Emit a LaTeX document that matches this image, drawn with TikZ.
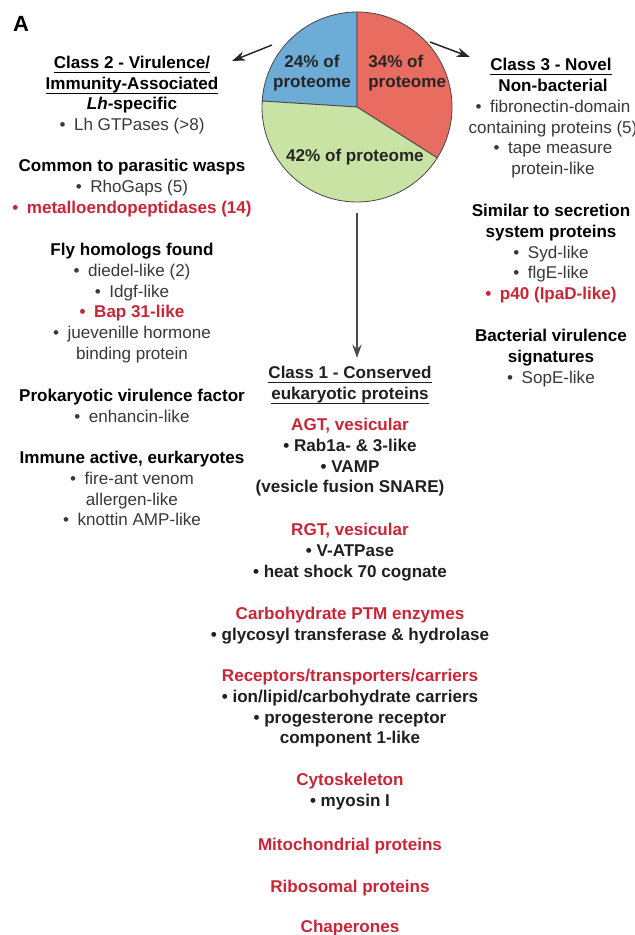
\documentclass[tikz,border=0pt]{standalone}
\usepackage{fontspec}
\setmainfont{Liberation Sans}
\usepackage{tikz}
\usetikzlibrary{arrows.meta}

\definecolor{hitred}{RGB}{200,38,55}
\definecolor{pieblue}{RGB}{108,172,214}
\definecolor{piered}{RGB}{232,108,96}
\definecolor{piegreen}{RGB}{200,227,163}
\definecolor{rimgray}{RGB}{70,70,70}

% underlined class headings
\newcommand{\hdline}[1]{\setbox0\hbox{#1}\rlap{\rule[-3.4pt]{\wd0}{0.8pt}}\box0}
% bold red hits
\newcommand{\redb}[1]{\textcolor{hitred}{\textbf{#1}}}
\newcommand{\blk}[1]{\textcolor{black}{\textbf{#1}}}

\begin{document}
\begin{tikzpicture}[
        x=0.75pt, y=-0.75pt,
        % text groups, centred, first baseline at the coordinate
        grp/.style={
            align=center, inner sep=0pt, anchor=north, yshift=10.92pt,
            execute at begin node=\strut,
            text=black!78,
            font=\fontsize{12.8}{15.6}\selectfont
        },
        % class 1 entries are all bold
        boldgrp/.style={grp, text=black!88, font=\fontsize{12.8}{15.6}\selectfont\bfseries},
        % pie slices
        slice/.style={draw=rimgray, line width=0.6pt},
        pielabel/.style={inner sep=0pt, text=black!85,
            font=\fontsize{12.8}{15.2}\selectfont\bfseries},
        % arrows out of the pie
        pointer/.style={draw=black!85, line width=1.1pt,
            -{Stealth[length=10pt, width=7pt]}}
    ]

        \useasboundingbox (0,0) rectangle (635,935);
        \clip (0,0) rectangle (635,935);

        % Panel letter
        \node[font=\fontsize{16.5}{18}\selectfont\bfseries] (panel) at (21,24) {A};

        % Pie chart
        \node[circle, inner sep=0pt, minimum size=142.5pt] (pie) at (357,107) {};
        \filldraw[slice, fill=pieblue, shift={(-133.2:2)}] (pie.center) -- ++(-90:95)
            arc[start angle=-90, end angle=-176.4, radius=95] -- cycle;
        \filldraw[slice, fill=piered, shift={(-28.8:2)}] (pie.center) -- ++(32.4:95)
            arc[start angle=32.4, end angle=-90, radius=95] -- cycle;
        \filldraw[slice, fill=piegreen, shift={(108:2)}] (pie.center) -- ++(-176.4:95)
            arc[start angle=-176.4, end angle=-327.6, radius=95] -- cycle;

        \node[pielabel, align=center] (lblue) at (312,73) {24\% of\\proteome};
        \node[pielabel, align=left, anchor=west] (lred) at (368,73) {34\% of\\proteome};
        \node[pielabel] (lgreen) at (355,157) {42\% of proteome};

        % Class 2 (left)
        \node[grp] (c2title) at (132,70.5)
            {\blk{\hdline{Class 2 - Virulence/}}\\ \blk{\hdline{Immunity-Associated}}};
        \node[grp] (lhspec) at (132,111.5)
            {\blk{\textit{Lh}-specific}\\ •\enspace Lh GTPases (>8)};
        \node[grp] (wasps) at (132,173.5)
            {\blk{Common to parasitic wasps}\\ •\enspace RhoGaps (5)\\
             \redb{•\enspace metalloendopeptidases (14)}};
        \node[grp] (fly) at (132,257.5)
            {\blk{Fly homologs found}\\ •\enspace diedel-like (2)\\ •\enspace Idgf-like\\
             \redb{•\enspace Bap 31-like}\\ •\enspace juevenille hormone\\ binding protein};
        \node[grp] (prok) at (132,403.5)
            {\blk{Prokaryotic virulence factor}\\ •\enspace enhancin-like};
        \node[grp] (immune) at (132,465.5)
            {\blk{Immune active, eurkaryotes}\\ •\enspace fire-ant venom\\ allergen-like\\
             •\enspace knottin AMP-like};

        % Class 3 (right)
        \node[grp] (c3title) at (551,70.5) {\blk{\hdline{Class 3 - Novel}}};
        \node[grp] (nonbact) at (553,93.5)
            {\blk{Non-bacterial}\\ •\enspace fibronectin-domain\\ containing proteins (5)\\
             •\enspace tape measure\\ protein-like};
        \node[grp] (secr) at (551,218.5)
            {\blk{Similar to secretion}\\ \blk{system proteins}\\ •\enspace Syd-like\\
             •\enspace flgE-like\\ \redb{•\enspace p40 (IpaD-like)}};
        \node[grp] (bactvir) at (551,343.5)
            {\blk{Bacterial virulence}\\ \blk{signatures}\\ •\enspace SopE-like};

        % Class 1 (centre)
        \node[boldgrp] (c1title) at (350,380.5)
            {\hdline{Class 1 - Conserved}\\ \hdline{eukaryotic proteins}};
        \node[boldgrp] (agt) at (350,432.5)
            {\redb{AGT, vesicular}\\ • Rab1a- \& 3-like\\ • VAMP\\ (vesicle fusion SNARE)};
        \node[boldgrp] (rgt) at (350,537.5)
            {\redb{RGT, vesicular}\\ • V-ATPase\\ • heat shock 70 cognate};
        \node[boldgrp] (carb) at (350,621.5)
            {\redb{Carbohydrate PTM enzymes}\\ • glycosyl transferase \& hydrolase};
        \node[boldgrp] (recep) at (350,683.5)
            {\redb{Receptors/transporters/carriers}\\ • ion/lipid/carbohydrate carriers\\
             • progesterone receptor\\ component 1-like};
        \node[boldgrp] (cyto) at (350,787.5) {\redb{Cytoskeleton}\\ • myosin I};
        \node[boldgrp] (mito) at (350,850.5) {\redb{Mitochondrial proteins}};
        \node[boldgrp] (ribo) at (350,892.5) {\redb{Ribosomal proteins}};
        \node[boldgrp] (chap) at (350,932.5) {\redb{Chaperones}};

        % Arrows from the pie
        \coordinate (c2tail) at (272,45);
        \coordinate (c2tip) at (232,61);
        \coordinate (c3tail) at (430,42);
        \coordinate (c3tip) at (470,57);
        \draw[pointer] (c2tail) -- (c2tip);
        \draw[pointer] (c3tail) -- (c3tip);
        \draw[pointer, draw=black!70, shorten <=8.2pt, shorten >=6pt]
            (pie.south) -- (pie.south |- c1title.north);

    \end{tikzpicture}
\end{document}
